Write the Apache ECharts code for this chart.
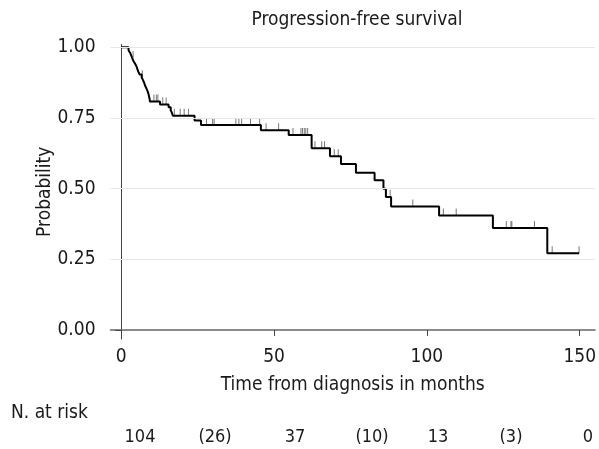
<!DOCTYPE html>
<html><head><meta charset="utf-8">
<script src="https://cdn.jsdelivr.net/npm/echarts@6/dist/echarts.min.js"></script>
<style>html,body{margin:0;padding:0;background:#fff}#c{width:599px;height:449px}</style>
</head><body><div id="c"></div>
<script>
// ---- data ----
const stepTimes = [0, 2.4, 2.9, 3.3, 3.6, 4.0, 4.5, 5.0, 5.3, 5.6, 6.0, 6.7, 7.1, 7.5, 7.8, 8.2, 8.6, 8.9, 9.1, 9.3, 9.4,
  12.7, 15.5, 16.2, 16.6, 16.9, 24.0, 26.1, 45.7, 54.8, 62.3, 68.3, 71.9, 76.8, 82.9, 85.8, 86.6, 88.3, 104.0, 121.6, 139.4, 149.8];
const stepSurv = [1.0, 0.990, 0.981, 0.971, 0.962, 0.952, 0.943, 0.933, 0.923, 0.914, 0.904, 0.894, 0.885, 0.875, 0.865, 0.856, 0.846, 0.836, 0.827, 0.817, 0.808,
  0.798, 0.788, 0.778, 0.768, 0.758, 0.741, 0.725, 0.707, 0.690, 0.643, 0.615, 0.587, 0.556, 0.530, 0.500, 0.470, 0.437, 0.405, 0.361, 0.271, 0.271];
const censorTimes = [3.9, 6.9, 10.7, 11.5, 12.0, 13.6, 14.7, 17.4, 19.3, 20.6, 22.0, 27.9, 29.9, 30.4, 37.5, 38.5, 39.4, 42.3, 45.3,
  47.4, 51.5, 56.2, 58.8, 59.3, 59.9, 60.4, 61.0, 63.4, 65.6, 66.5, 69.7, 71.0, 88.0, 95.4, 105.4, 109.6, 126.0, 127.5, 127.8, 135.2, 141.0, 149.8];
const xTicks = [0, 50, 100, 150];
const yTicks = [0, 0.25, 0.5, 0.75, 1];
const gridValues = [0.25, 0.5, 0.75, 1];
const riskLabels = ['104', '(26)', '37', '(10)', '13', '(3)', '0'];
// layout of the risk-table text (pixel centres)
const riskX = [140, 215, 295, 372, 438, 511, 588];

const FONT = '"Liberation Sans Narrow", "DejaVu Sans Condensed", "Liberation Sans", sans-serif';
const TXT = '#1a1a1a';

function survAt(t) {
  let s = stepSurv[0];
  for (let i = 0; i < stepTimes.length; i++) { if (stepTimes[i] <= t) s = stepSurv[i]; }
  return s;
}

const chart = echarts.init(document.getElementById('c'), null, { renderer: 'canvas' });
const graphics = [
  { type: 'text', x: 357, y: 20, style: { text: 'Progression-free survival', textAlign: 'center', textVerticalAlign: 'middle', font: '19px ' + FONT, fill: TXT } },
  { type: 'text', x: 11, y: 413, style: { text: 'N. at risk', textVerticalAlign: 'middle', font: '19px ' + FONT, fill: TXT } }
];
riskLabels.forEach((l, i) => {
  graphics.push({ type: 'text', x: riskX[i], y: 437, style: { text: l, textAlign: 'center', textVerticalAlign: 'middle', font: '18px ' + FONT, fill: TXT } });
});

chart.setOption({
  animation: false,
  backgroundColor: '#fff',
  grid: { left: 110.5, top: 44.5, width: 488, height: 294.5, containLabel: false },
  xAxis: {
    type: 'value', min: -3.5, max: 155,
    name: 'Time from diagnosis in months', nameLocation: 'middle', nameGap: 37, nameMoveOverlap: false,
    nameTextStyle: { fontFamily: FONT, fontSize: 19, color: TXT },
    axisLine: { show: true, lineStyle: { color: '#666', width: 1.5 } },
    axisTick: { show: true, customValues: xTicks, length: 6, lineStyle: { color: '#444', width: 1 } },
    axisLabel: { customValues: xTicks, fontFamily: FONT, fontSize: 19, color: TXT, margin: 9 },
    splitLine: { show: false }
  },
  yAxis: {
    type: 'value', min: -0.032, max: 1.01,
    name: 'Probability', nameLocation: 'middle', nameGap: 56, nameRotate: 90, nameMoveOverlap: false,
    nameTextStyle: { fontFamily: FONT, fontSize: 19, color: TXT },
    axisLine: { show: true, lineStyle: { color: '#444', width: 1 } },
    axisTick: { show: true, customValues: yTicks, length: 6, lineStyle: { color: '#444', width: 1 } },
    axisLabel: { customValues: yTicks, formatter: v => v.toFixed(2), fontFamily: FONT, fontSize: 19, color: TXT, margin: 15 },
    splitLine: { show: false }
  },
  graphic: graphics,
  series: [
    {
      type: 'line', data: [], z: 1, silent: true,
      markLine: {
        silent: true, symbol: 'none', label: { show: false },
        lineStyle: { color: '#e6e6e6', width: 1.2, type: 'solid' },
        data: gridValues.map(v => ({ yAxis: v }))
      }
    },
    {
      type: 'line', step: 'end', showSymbol: false, z: 3, silent: true,
      lineStyle: { color: '#000', width: 2 },
      data: stepTimes.map((t, i) => [t, stepSurv[i]])
    },
    {
      type: 'scatter', z: 2, silent: true,
      symbol: 'rect', symbolSize: [1, 7], symbolOffset: [0, -3.5],
      itemStyle: { color: '#555' },
      data: censorTimes.map(t => [t, survAt(t)])
    }
  ]
});
</script></body></html>
